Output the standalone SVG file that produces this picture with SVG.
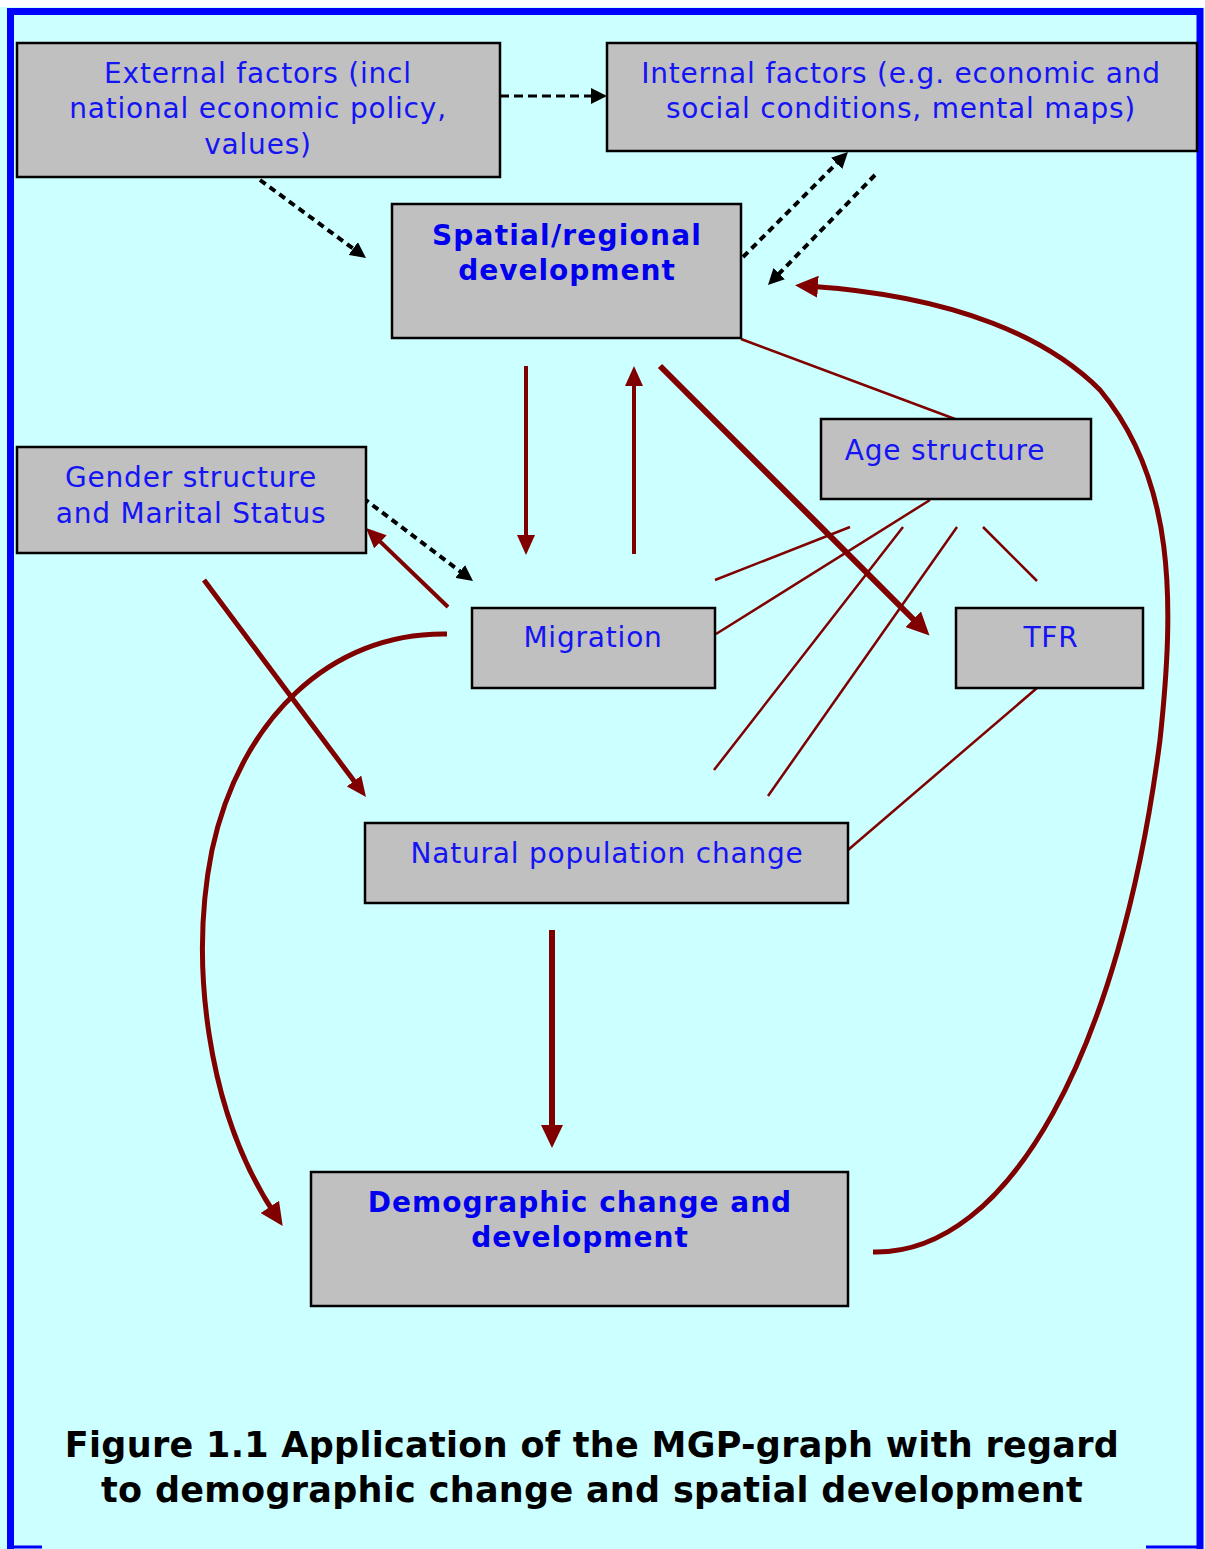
<svg xmlns="http://www.w3.org/2000/svg" width="1205" height="1549" viewBox="0 0 1205 1549">
<style>
.box{fill:#C0C0C0;stroke:#000;stroke-width:2.5}
.t{font-family:"DejaVu Sans",Verdana,sans-serif;font-size:28px;fill:#1414F5;text-anchor:middle;letter-spacing:0.8px}
.tb{font-family:"DejaVu Sans",Verdana,sans-serif;font-size:28px;font-weight:bold;fill:#0000EE;text-anchor:middle;letter-spacing:1px}
.cap{font-family:"DejaVu Sans",Verdana,sans-serif;font-size:35px;font-weight:bold;fill:#000;text-anchor:middle;letter-spacing:0.3px}
.dash{fill:none;stroke:#000;stroke-width:3;stroke-dasharray:9 5}
.dot{fill:none;stroke:#000;stroke-width:4;stroke-dasharray:7 5}
.r4{fill:none;stroke:#800000;stroke-width:4}
.r6{fill:none;stroke:#800000;stroke-width:6}
.r5{fill:none;stroke:#800000;stroke-width:5}
.thin{fill:none;stroke:#800000;stroke-width:2.5}
</style>
<defs>
<marker id="ab" markerUnits="userSpaceOnUse" markerWidth="18" markerHeight="16" refX="8" refY="8" orient="auto"><path d="M0,0 L16,8 L0,16 z" fill="#000"/></marker>
<marker id="ar" markerUnits="userSpaceOnUse" markerWidth="22" markerHeight="18" refX="10" refY="9" orient="auto"><path d="M0,0 L20,9 L0,18 z" fill="#800000"/></marker>
<marker id="arb" markerUnits="userSpaceOnUse" markerWidth="24" markerHeight="22" refX="11" refY="11" orient="auto"><path d="M0,0 L23,11 L0,22 z" fill="#800000"/></marker>
</defs>
<rect x="0" y="0" width="1205" height="1549" fill="#CCFFFF"/>
<rect x="0" y="0" width="1205" height="7" fill="#FFFFFF"/>
<path d="M10.5 1549 V11.5 H1200 V1549" fill="none" stroke="#0000FF" stroke-width="7"/>
<line x1="8" y1="1547" x2="42" y2="1547" stroke="#0000FF" stroke-width="3"/>
<line x1="1146" y1="1547" x2="1203" y2="1547" stroke="#0000FF" stroke-width="3"/>

<g id="connectors">
<line class="dash" x1="500" y1="96" x2="599" y2="96" marker-end="url(#ab)"/>
<line class="dot" x1="260" y1="180" x2="359.6" y2="253.3" marker-end="url(#ab)"/>
<line class="dot" x1="743" y1="257" x2="842.3" y2="157.7" marker-end="url(#ab)"/>
<line class="dot" x1="875" y1="175" x2="773.6" y2="279.3" marker-end="url(#ab)"/>
<line class="dot" x1="363" y1="498" x2="466.6" y2="576.2" marker-end="url(#ab)"/>

<line class="r4" x1="526" y1="366" x2="526" y2="545" marker-end="url(#ar)"/>
<line class="r4" x1="634" y1="554" x2="634" y2="376" marker-end="url(#ar)"/>
<line class="r6" x1="660" y1="366" x2="921" y2="627" marker-end="url(#arb)"/>
<line class="r4" x1="448" y1="607" x2="373.2" y2="534.9" marker-end="url(#ar)"/>
<line class="r5" x1="204" y1="580" x2="360" y2="789" marker-end="url(#ar)"/>
<line class="r6" x1="552" y1="930" x2="552" y2="1136" marker-end="url(#arb)"/>

<path class="r5" d="M447 634 C330 632 240 720 212 850 C190 960 205 1110 276 1216" marker-end="url(#arb)"/>
<path class="r5" d="M873 1252 C1010 1255 1120 1050 1160 740 C1175 600 1175 480 1100 390 C1050 340 960 296 807 286" marker-end="url(#arb)"/>

<line class="thin" x1="741" y1="339" x2="955" y2="419"/>
<line class="thin" x1="715" y1="580" x2="850" y2="527"/>
<line class="thin" x1="716" y1="634" x2="930" y2="500"/>
<line class="thin" x1="714" y1="770" x2="903" y2="527"/>
<line class="thin" x1="768" y1="796" x2="957" y2="527"/>
<line class="thin" x1="983" y1="527" x2="1037" y2="581"/>
<line class="thin" x1="1037" y1="688" x2="848" y2="850"/>
</g>

<g id="external">
<rect class="box" x="17" y="43" width="483" height="134"/>
<text class="t" x="258" y="83">External factors (incl</text>
<text class="t" x="258" y="118">national economic policy,</text>
<text class="t" x="258" y="154">values)</text>
</g>
<g id="internal">
<rect class="box" x="607" y="43" width="590" height="108"/>
<text class="t" x="901" y="83">Internal factors (e.g. economic and</text>
<text class="t" x="901" y="118">social conditions, mental maps)</text>
</g>
<g id="spatial">
<rect class="box" x="392" y="204" width="349" height="134"/>
<text class="tb" x="567" y="245" style="letter-spacing:1.2px">Spatial/regional</text>
<text class="tb" x="567" y="280">development</text>
</g>
<g id="gender">
<rect class="box" x="17" y="447" width="349" height="106"/>
<text class="t" x="191" y="487">Gender structure</text>
<text class="t" x="191" y="523">and Marital Status</text>
</g>
<g id="age">
<rect class="box" x="821" y="419" width="270" height="80"/>
<text class="t" x="945" y="460">Age structure</text>
</g>
<g id="migration">
<rect class="box" x="472" y="608" width="243" height="80"/>
<text class="t" x="593" y="647">Migration</text>
</g>
<g id="tfr">
<rect class="box" x="956" y="608" width="187" height="80"/>
<text class="t" x="1051" y="647">TFR</text>
</g>
<g id="natural">
<rect class="box" x="365" y="823" width="483" height="80"/>
<text class="t" x="607" y="863">Natural population change</text>
</g>
<g id="demographic">
<rect class="box" x="311" y="1172" width="537" height="134"/>
<text class="tb" x="580" y="1212">Demographic change and</text>
<text class="tb" x="580" y="1247">development</text>
</g>
<g id="caption">
<text class="cap" x="592" y="1457">Figure 1.1 Application of the MGP-graph with regard</text>
<text class="cap" x="592" y="1502">to demographic change and spatial development</text>
</g>
</svg>
